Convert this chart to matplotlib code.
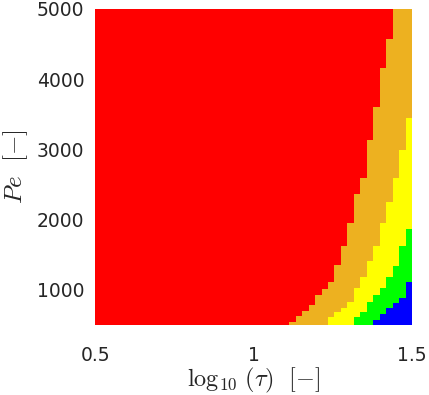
import numpy as np
import matplotlib
matplotlib.use("Agg")
import matplotlib.pyplot as plt
from matplotlib.colors import ListedColormap

# ---- data: 49 columns of log10(tau) between 0.5 and 1.5 ----
log_tau_edges = np.linspace(0.5, 1.5, 50)

# Pe thresholds per column (boundary between regimes)
pe_blue_green = [500]*43 + [567, 648, 733, 810, 886, 1113]
pe_green_yellow = [500]*40 + [614, 685, 828, 923, 1019, 1177, 1337, 1622, 1864]
pe_yellow_orange = [500]*36 + [614, 685, 733, 828, 1019, 1185, 1413, 1622,
                               1954, 2253, 2587, 2990, 3443]
pe_orange_red = [500]*30 + [543, 624, 700, 781, 923, 1009, 1113, 1351, 1622,
                            1954, 2363, 2587, 3133, 3607, 4155, 4568,
                            5000, 5000, 5000]

regime_colors = ["#FF0000", "#EDB120", "#FFFF00", "#00FF00", "#0000FF"]  # red, orange, yellow, green, blue

x_ticks = [0.5, 1, 1.5]
x_tick_labels = ["0.5", "1", "1.5"]
y_ticks = [1000, 2000, 3000, 4000, 5000]

# ---- build regime map ----
pe_edges = np.linspace(500, 5000, 901)
pe_mid = 0.5 * (pe_edges[:-1] + pe_edges[1:])
ncol = len(log_tau_edges) - 1
Z = np.zeros((len(pe_mid), ncol), dtype=int)
for j in range(ncol):
    z = np.zeros(len(pe_mid), dtype=int)
    z[pe_mid < pe_orange_red[j]] = 1
    z[pe_mid < pe_yellow_orange[j]] = 2
    z[pe_mid < pe_green_yellow[j]] = 3
    z[pe_mid < pe_blue_green[j]] = 4
    Z[:, j] = z

plt.rcParams['mathtext.fontset'] = 'cm'
fig = plt.figure(figsize=(4.29, 3.95), dpi=100)
ax = fig.add_axes([95.3/429, 1 - 324.7/395, (412 - 95.3)/429, (324.7 - 9)/395])
ax.pcolormesh(log_tau_edges, pe_edges, Z, cmap=ListedColormap(regime_colors),
              vmin=-0.5, vmax=4.5, shading='flat', antialiased=False, linewidth=0)
ax.set_xlim(0.5, 1.5)
ax.set_ylim(500, 5000)
for s in ax.spines.values():
    s.set_visible(False)
ax.set_xticks(x_ticks)
ax.set_xticklabels(x_tick_labels)
ax.set_yticks(y_ticks)
ax.tick_params(axis='both', length=0, labelsize=13.5, colors='#262626')
ax.tick_params(axis='x', pad=15)
ax.tick_params(axis='y', pad=8)
for lab in ax.get_xticklabels() + ax.get_yticklabels():
    lab.set_fontfamily('DejaVu Sans')
ax.set_xlabel(r"$\log_{10}\,(\tau)\ \ [-]$", fontsize=17.5, color='#262626', labelpad=1)
ax.set_ylabel(r"$Pe\ \ [-]$", fontsize=18, color='#262626', labelpad=5)
fig.savefig("out.png", dpi=100)
